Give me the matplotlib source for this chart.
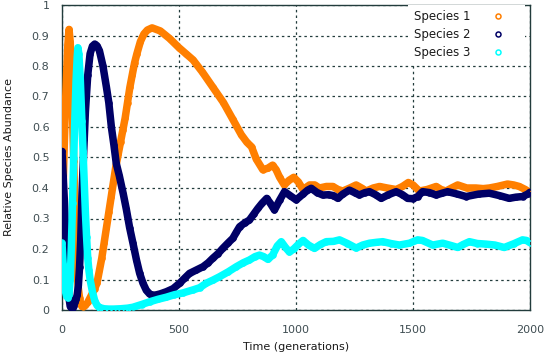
import matplotlib
matplotlib.use("Agg")
import matplotlib.pyplot as plt
from matplotlib.ticker import MultipleLocator, FormatStrFormatter

# values (generation, relative abundance)
t_s1 = [0, 5, 10, 15, 20, 25, 30, 35, 40, 45, 50, 55, 60, 65, 70, 75, 80, 85, 90, 100,
        110, 120, 130, 140, 150, 160, 170, 180, 190, 200, 210, 220, 230, 240, 250, 260,
        270, 280, 290, 300, 310, 320, 335, 350, 365, 385, 420, 460, 500, 530, 560, 600,
        645, 690, 730, 766, 790, 810, 830, 858, 880, 900, 915, 930, 950, 970, 990, 1010,
        1030, 1058, 1080, 1100, 1130, 1157, 1180, 1200, 1230, 1257, 1280, 1300, 1330, 1357,
        1390, 1428, 1455, 1480, 1500, 1527, 1560, 1599, 1620, 1641, 1665, 1691, 1730, 1769,
        1800, 1826, 1860, 1904, 1930, 1954, 1980, 2000]
s1 = [0.27, 0.41, 0.55, 0.68, 0.78, 0.87, 0.92, 0.88, 0.78, 0.64, 0.49, 0.34, 0.21, 0.12,
      0.07, 0.04, 0.02, 0.012, 0.01, 0.015, 0.025, 0.04, 0.055, 0.07, 0.09, 0.13, 0.17,
      0.22, 0.27, 0.32, 0.37, 0.42, 0.47, 0.51, 0.55, 0.59, 0.63, 0.68, 0.73, 0.77, 0.81,
      0.84, 0.88, 0.905, 0.918, 0.925, 0.915, 0.89, 0.86, 0.84, 0.82, 0.78, 0.73, 0.68,
      0.625, 0.575, 0.55, 0.535, 0.495, 0.46, 0.465, 0.475, 0.46, 0.435, 0.41, 0.425,
      0.435, 0.42, 0.395, 0.41, 0.41, 0.40, 0.405, 0.405, 0.395, 0.39, 0.40, 0.41, 0.40,
      0.39, 0.40, 0.405, 0.40, 0.395, 0.405, 0.418, 0.41, 0.39, 0.395, 0.405, 0.395, 0.39,
      0.40, 0.41, 0.40, 0.40, 0.398, 0.40, 0.405, 0.413, 0.41, 0.405, 0.395, 0.385]

t_s2 = [0, 5, 10, 15, 20, 25, 30, 35, 40, 45, 50, 55, 60, 65, 70, 75, 80, 85, 90, 95, 100,
        110, 120, 130, 140, 150, 160, 175, 190, 200, 211, 222, 232, 245, 262, 275, 289, 303,
        318, 332, 346, 360, 375, 389, 405, 420, 446, 475, 503, 525, 545, 574, 603, 625, 645,
        667, 687, 710, 730, 745, 759, 780, 801, 820, 837, 855, 875, 890, 908, 930, 951, 975,
        1001, 1030, 1050, 1065, 1090, 1114, 1140, 1160, 1179, 1200, 1228, 1250, 1271, 1295,
        1314, 1340, 1364, 1395, 1428, 1455, 1477, 1500, 1520, 1541, 1570, 1599, 1625, 1648,
        1690, 1727, 1780, 1826, 1870, 1911, 1940, 1968, 1990, 2000]
s2 = [0.52, 0.44, 0.36, 0.27, 0.18, 0.10, 0.04, 0.012, 0.006, 0.008, 0.013, 0.025, 0.035,
      0.05, 0.08, 0.14, 0.23, 0.37, 0.47, 0.56, 0.65, 0.77, 0.84, 0.865, 0.872, 0.866, 0.85,
      0.80, 0.73, 0.68, 0.60, 0.54, 0.48, 0.44, 0.38, 0.33, 0.27, 0.22, 0.165, 0.12, 0.088,
      0.065, 0.052, 0.048, 0.05, 0.053, 0.06, 0.07, 0.088, 0.105, 0.12, 0.131, 0.142, 0.155,
      0.17, 0.185, 0.202, 0.22, 0.235, 0.255, 0.273, 0.285, 0.295, 0.315, 0.333, 0.35,
      0.366, 0.35, 0.328, 0.36, 0.388, 0.375, 0.361, 0.38, 0.393, 0.399, 0.385, 0.377,
      0.378, 0.375, 0.366, 0.38, 0.393, 0.385, 0.377, 0.385, 0.388, 0.378, 0.366, 0.378,
      0.388, 0.378, 0.366, 0.365, 0.372, 0.388, 0.385, 0.377, 0.383, 0.388, 0.38, 0.372,
      0.38, 0.383, 0.375, 0.366, 0.37, 0.372, 0.38, 0.386]

t_s3 = [0, 5, 10, 15, 20, 25, 30, 35, 40, 45, 50, 55, 60, 65, 68, 72, 78, 85, 90, 95, 100,
        105, 110, 115, 120, 130, 140, 150, 160, 180, 200, 220, 250, 280, 303, 340, 375, 410,
        446, 480, 517, 560, 588, 617, 645, 673, 710, 745, 775, 801, 825, 844, 862, 880, 900,
        920, 937, 955, 972, 990, 1010, 1030, 1055, 1079, 1105, 1129, 1160, 1186, 1220, 1257,
        1285, 1314, 1345, 1371, 1405, 1442, 1485, 1520, 1540, 1584, 1627, 1660, 1691, 1715,
        1741, 1775, 1812, 1850, 1890, 1930, 1968, 1985, 2000]
s3 = [0.22, 0.15, 0.09, 0.06, 0.045, 0.04, 0.05, 0.10, 0.21, 0.35, 0.50, 0.63, 0.75, 0.83,
      0.86, 0.84, 0.76, 0.62, 0.52, 0.42, 0.32, 0.24, 0.17, 0.13, 0.10, 0.06, 0.03, 0.015,
      0.008, 0.004, 0.003, 0.003, 0.004, 0.006, 0.009, 0.018, 0.027, 0.035, 0.042, 0.05,
      0.056, 0.066, 0.073, 0.088, 0.098, 0.109, 0.125, 0.142, 0.155, 0.164, 0.175, 0.18,
      0.175, 0.166, 0.18, 0.21, 0.224, 0.205, 0.19, 0.20, 0.215, 0.228, 0.212, 0.202, 0.215,
      0.224, 0.225, 0.23, 0.218, 0.203, 0.213, 0.219, 0.222, 0.224, 0.218, 0.213, 0.219,
      0.23, 0.228, 0.213, 0.219, 0.212, 0.205, 0.215, 0.224, 0.218, 0.216, 0.213, 0.205,
      0.217, 0.23, 0.228, 0.221]

labels = ["Species 1", "Species 2", "Species 3"]
colors = ["#ff7f00", "#000066", "#00ffff"]

GRID_COL = "#223c3c"
TICK_COL = "#3f4d52"

plt.rcParams["font.family"] = "DejaVu Sans"
plt.rcParams["font.size"] = 8

fig = plt.figure(figsize=(5.45, 3.54), dpi=100)
ax = fig.add_axes([62 / 545, 44 / 354, 468 / 545, 305 / 354])

for ts, ys, lab, col in zip([t_s1, t_s2, t_s3], [s1, s2, s3], labels, colors):
    ax.plot(ts, ys, color=col, lw=5.4, solid_capstyle="round", solid_joinstyle="round",
            zorder=3)
    ax.plot(ts, ys, ls="none", marker="o", ms=3.6, mfc="none", mec=col, mew=1.1,
            label=lab, zorder=3)

ax.set_xlim(0, 2000)
ax.set_ylim(0, 1)
ax.xaxis.set_major_locator(MultipleLocator(500))
ax.yaxis.set_major_locator(MultipleLocator(0.1))
ax.yaxis.set_major_formatter(FormatStrFormatter("%g"))
ax.tick_params(length=0, colors=TICK_COL, labelsize=8)
ax.tick_params(axis="y", pad=9)
ax.tick_params(axis="x", pad=11)

ax.grid(True, color=GRID_COL, ls=(0, (2, 2.5)), lw=0.9)
ax.set_axisbelow(True)
for sp in ax.spines.values():
    sp.set_color(GRID_COL)
    sp.set_linewidth(1)

ax.set_xlabel("Time (generations)", color="#1a1a1a")
ax.set_ylabel("Relative Species Abundance", color="#1a1a1a")
ax.xaxis.set_label_coords(0.5, -0.105)
ax.yaxis.set_label_coords(-0.102, 0.5)

leg = ax.legend(loc="upper right", bbox_to_anchor=((525 - 62) / 468, 1.0),
                borderaxespad=0, markerfirst=False, frameon=True, fancybox=False,
                framealpha=1, facecolor="white", edgecolor="none", borderpad=0.45,
                handlelength=3.6, handletextpad=0.6, labelspacing=0.42,
                prop={"size": 8.5})
leg.set_zorder(5)
for txt in leg.get_texts():
    txt.set_color("#1a1a1a")

fig.savefig("out.png", dpi=100)
